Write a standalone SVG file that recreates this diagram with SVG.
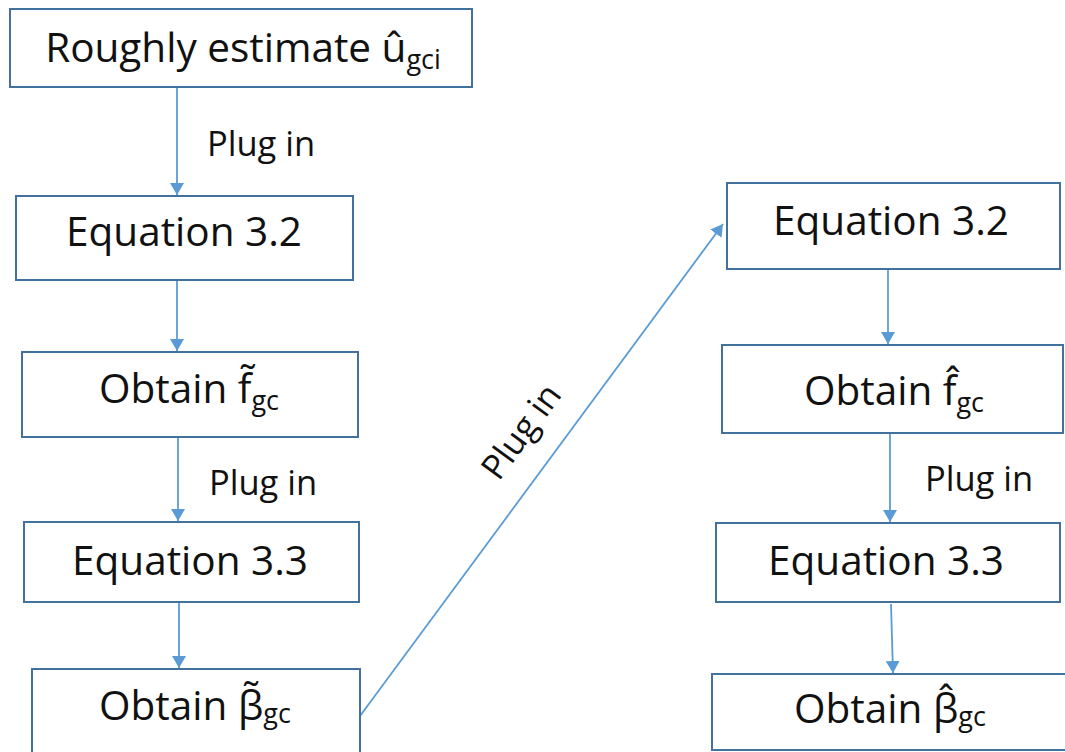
<svg xmlns="http://www.w3.org/2000/svg" width="1065" height="752" viewBox="0 0 1065 752">
<style>
.box{fill:#fff;stroke:#41719C;stroke-width:2}
.t{font-family:"Open Sans","Liberation Sans",sans-serif;font-size:40.5px;fill:#111;text-anchor:middle}
.s{font-size:27px}
.lbl{font-family:"Open Sans","Liberation Sans",sans-serif;font-size:34.5px;fill:#111}
.c{stroke:#5B9BD5;stroke-width:1.8;fill:none;marker-end:url(#ah)}
</style>
<defs>
<marker id="ah" viewBox="0 0 12 14" refX="12" refY="7" markerWidth="12" markerHeight="14" markerUnits="userSpaceOnUse" orient="auto">
<path d="M0,0 L12,7 L0,14 z" fill="#5B9BD5"/>
</marker>
</defs>
<rect width="1065" height="752" fill="#fff"/>
<g id="connectors">
<line class="c" x1="177" y1="88" x2="177" y2="195"/>
<line class="c" x1="177" y1="281" x2="177" y2="351"/>
<line class="c" x1="178" y1="438" x2="178" y2="521"/>
<line class="c" x1="179" y1="603" x2="179" y2="668"/>
<line class="c" x1="360" y1="716" x2="723" y2="224"/>
<line class="c" x1="888" y1="269" x2="888" y2="344"/>
<line class="c" x1="890" y1="434" x2="890" y2="522"/>
<line class="c" x1="891" y1="604" x2="893" y2="673"/>
<text class="lbl" x="207" y="156">Plug in</text>
<text class="lbl" x="209" y="495">Plug in</text>
<text class="lbl" x="925" y="491">Plug in</text>
<text class="lbl" text-anchor="middle" transform="translate(522,432) rotate(-53.7)" y="11">Plug in</text>
</g>
<g id="n1"><rect class="box" x="10" y="9" width="462" height="78"/><text class="t" x="243" y="62">Roughly estimate û<tspan class="s" dy="7">gci</tspan></text></g>
<g id="n2"><rect class="box" x="16" y="196" width="337" height="84"/><text class="t" x="184" y="246">Equation 3.2</text></g>
<g id="n3"><rect class="box" x="22" y="352" width="336" height="85"/><text class="t" x="189" y="403">Obtain f̃<tspan class="s" dy="7">gc</tspan></text></g>
<g id="n4"><rect class="box" x="24" y="522" width="335" height="80"/><text class="t" x="190" y="575">Equation 3.3</text></g>
<g id="n5"><rect class="box" x="32" y="669" width="328" height="90"/><text class="t" x="195" y="720">Obtain β̃<tspan class="s" dy="3">gc</tspan></text></g>
<g id="n6"><rect class="box" x="727" y="183" width="333" height="86"/><text class="t" x="891" y="235">Equation 3.2</text></g>
<g id="n7"><rect class="box" x="722" y="345" width="341" height="88"/><text class="t" x="894" y="405">Obtain f̂<tspan class="s" dy="7">gc</tspan></text></g>
<g id="n8"><rect class="box" x="716" y="523" width="344" height="79"/><text class="t" x="886" y="575">Equation 3.3</text></g>
<g id="n9"><rect class="box" x="712" y="674" width="360" height="76"/><text class="t" x="890" y="723">Obtain β̂<tspan class="s" dy="3">gc</tspan></text></g>
</svg>
